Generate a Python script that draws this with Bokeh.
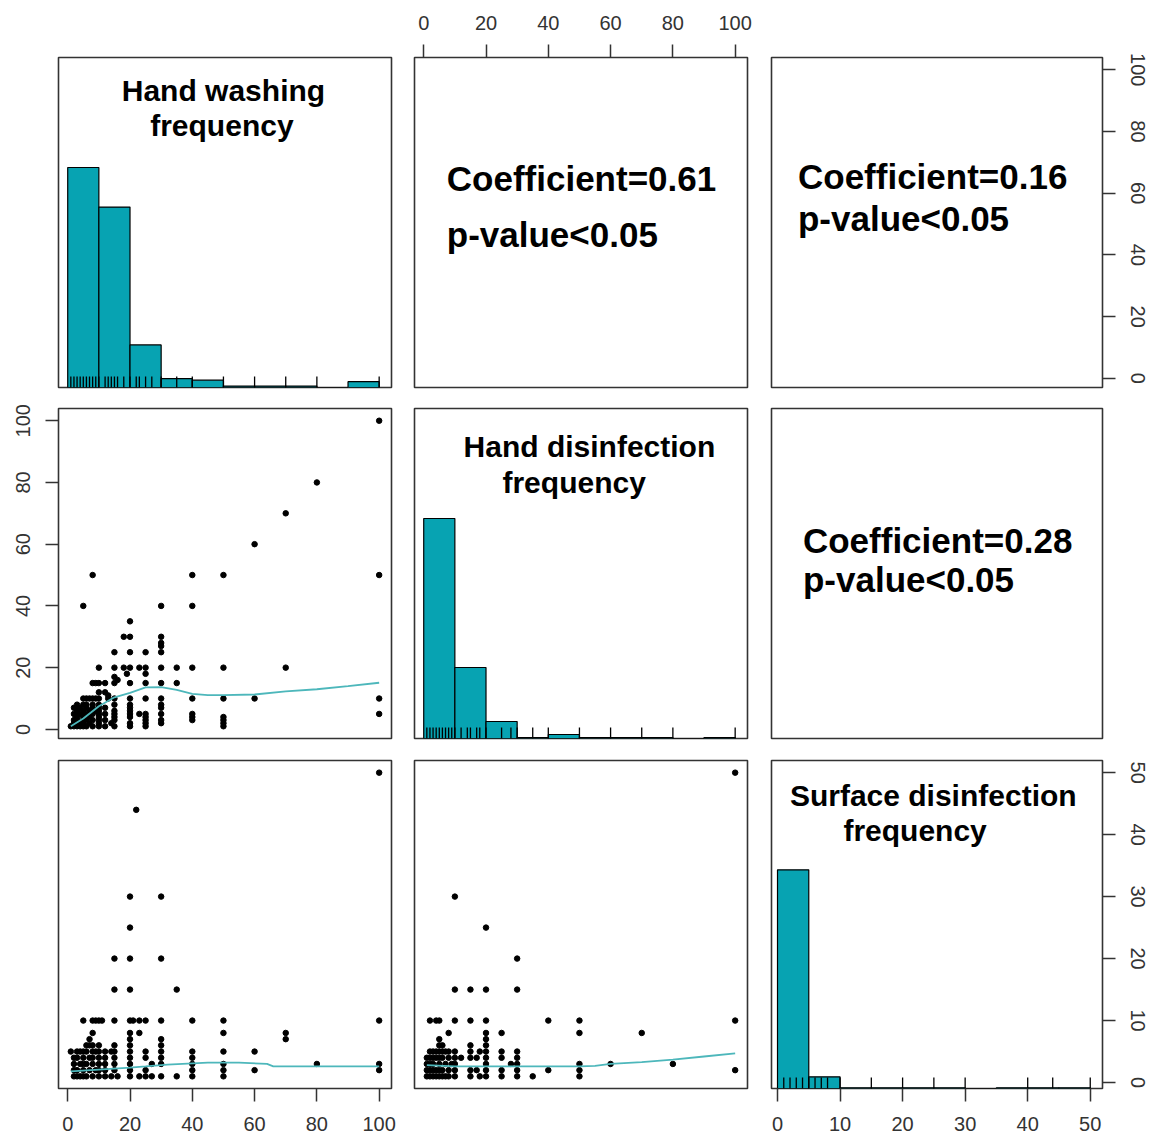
from bokeh.plotting import figure
from bokeh.layouts import gridplot
from bokeh.models import LinearAxis, FixedTicker, Range1d, Label
from bokeh.embed import file_html
from bokeh.resources import INLINE

# ---------------- data ----------------
var_titles = [["Hand washing", "frequency"],
              ["Hand disinfection", "frequency"],
              ["Surface disinfection", "frequency"]]
coef_texts = ["Coefficient=0.61", "Coefficient=0.16", "Coefficient=0.28"]
p_texts = ["p-value<0.05", "p-value<0.05", "p-value<0.05"]

hw_edges = [0, 10, 20, 30, 40, 50, 60, 70, 80, 90, 100]
hw_counts = [150, 123, 29, 6, 5, 1, 1, 1, 0, 4]
hd_edges = [0, 10, 20, 30, 40, 50, 60, 70, 80, 90, 100]
hd_counts = [220, 71, 17, 1, 4, 1, 1, 1, 0, 1]
sd_edges = [0, 5, 10, 15, 20, 25, 30, 35, 40, 45, 50]
sd_counts = [300, 16, 1, 1, 1, 1, 0, 1, 1, 1]

hw_rug = [1, 2, 3, 4, 5, 6, 7, 8, 9, 10, 12, 13, 14, 15, 16, 18, 20, 22, 23, 25, 27, 30, 35, 40, 50, 60, 70, 80, 100]
hd_rug = [1, 2, 3, 4, 5, 6, 7, 8, 9, 10, 12, 14, 15, 17, 18, 20, 25, 28, 30, 35, 40, 50, 60, 70, 80, 100]
sd_rug = [1, 2, 3, 4, 5, 6, 7, 8, 10, 15, 20, 25, 30, 40, 44, 50]

axis_ticks_100 = [0, 20, 40, 60, 80, 100]
axis_ticks_50 = [0, 10, 20, 30, 40, 50]

hw_hd_points = [
    (100, 100), (80, 80), (70, 70), (60, 60), (40, 50), (50, 50), (100, 50), (8, 50), (5, 40), (30, 40), (40, 40),
    (20, 35), (18, 30), (20, 30), (30, 30), (30, 28), (30, 27),
    (15, 25), (20, 25), (25, 25), (30, 25),
    (10, 20), (15, 20), (18, 20), (20, 20), (23, 20), (25, 20), (30, 20), (35, 20), (40, 20), (50, 20), (70, 20),
    (19, 18), (25, 18), (15, 17), (16, 16),
    (8, 15), (9, 15), (10, 15), (12, 15), (15, 15), (20, 15), (25, 15), (30, 15), (35, 15),
    (10, 12), (12, 12), (13, 11),
    (5, 10), (6, 10), (7, 10), (8, 10), (9, 10), (10, 10), (13, 10), (15, 10), (20, 10), (25, 10), (30, 10),
    (40, 10), (50, 10), (60, 10), (100, 10),
    (3, 8), (5, 8), (6, 8), (8, 8), (10, 8), (15, 8), (20, 8), (30, 8),
    (2, 7), (4, 7), (6, 7), (8, 7), (10, 7), (12, 7), (20, 7), (30, 7),
    (3, 6), (5, 6), (7, 6), (9, 6), (10, 6), (15, 6), (20, 6),
    (2, 5), (4, 5), (5, 5), (6, 5), (8, 5), (10, 5), (12, 5), (15, 5), (20, 5), (23, 5), (25, 5), (30, 5), (40, 5), (100, 5),
    (3, 4), (5, 4), (7, 4), (10, 4), (15, 4), (20, 4), (25, 4), (40, 4), (50, 4),
    (2, 3), (3, 3), (5, 3), (6, 3), (8, 3), (10, 3), (12, 3), (15, 3), (25, 3), (30, 3), (40, 3), (50, 3),
    (2, 2), (4, 2), (5, 2), (7, 2), (10, 2), (14, 2), (20, 2), (25, 2), (30, 2), (50, 2),
    (1, 1), (2, 1), (3, 1), (4, 1), (5, 1), (6, 1), (8, 1), (10, 1), (12, 1), (15, 1), (20, 1), (25, 1), (50, 1),
]

hw_sd_points = [
    (100, 50), (22, 44), (20, 30), (30, 30), (20, 25), (15, 20), (20, 20), (30, 20), (15, 15), (20, 15), (35, 15),
    (5, 10), (8, 10), (9, 10), (10, 10), (11, 10), (15, 10), (20, 10), (21, 10), (23, 10), (25, 10), (30, 10),
    (40, 10), (50, 10), (100, 10),
    (8, 8), (20, 8), (23, 8), (50, 8), (70, 8),
    (7, 7), (20, 7), (30, 7), (70, 7),
    (6, 6), (7, 6), (8, 6), (10, 6), (15, 6), (20, 6), (30, 6),
    (1, 5), (3, 5), (4, 5), (5, 5), (6, 5), (8, 5), (9, 5), (10, 5), (12, 5), (14, 5), (15, 5), (20, 5), (25, 5),
    (30, 5), (40, 5), (50, 5), (60, 5),
    (2, 4), (3, 4), (5, 4), (7, 4), (8, 4), (10, 4), (12, 4), (15, 4), (20, 4), (25, 4), (30, 4), (40, 4),
    (2, 3), (4, 3), (5, 3), (6, 3), (8, 3), (10, 3), (12, 3), (15, 3), (20, 3), (27, 3), (30, 3), (40, 3), (50, 3),
    (80, 3), (100, 3),
    (2, 2), (3, 2), (5, 2), (7, 2), (9, 2), (10, 2), (12, 2), (15, 2), (20, 2), (25, 2), (40, 2), (50, 2), (60, 2), (100, 2),
    (2, 1), (3, 1), (4, 1), (5, 1), (6, 1), (8, 1), (10, 1), (12, 1), (14, 1), (16, 1), (20, 1), (23, 1), (25, 1),
    (27, 1), (30, 1), (35, 1), (40, 1), (50, 1),
]

hd_sd_points = [
    (100, 50), (10, 30), (20, 25), (30, 20), (10, 15), (15, 15), (20, 15), (30, 15),
    (2, 10), (4, 10), (5, 10), (10, 10), (15, 10), (20, 10), (40, 10), (50, 10), (100, 10),
    (8, 8), (20, 8), (25, 8), (50, 8), (70, 8),
    (5, 7), (20, 7),
    (5, 6), (6, 6), (15, 6), (20, 6),
    (2, 5), (3, 5), (4, 5), (5, 5), (6, 5), (7, 5), (8, 5), (10, 5), (15, 5), (18, 5), (20, 5), (25, 5), (30, 5),
    (1, 4), (2, 4), (3, 4), (4, 4), (5, 4), (6, 4), (8, 4), (10, 4), (12, 4), (15, 4), (17, 4), (20, 4), (25, 4), (30, 4),
    (1, 3), (2, 3), (3, 3), (5, 3), (7, 3), (9, 3), (10, 3), (20, 3), (28, 3), (30, 3), (50, 3), (60, 3), (80, 3),
    (1, 2), (2, 2), (3, 2), (4, 2), (5, 2), (6, 2), (8, 2), (10, 2), (15, 2), (17, 2), (20, 2), (25, 2), (30, 2),
    (40, 2), (50, 2), (100, 2),
    (1, 1), (2, 1), (3, 1), (4, 1), (5, 1), (6, 1), (7, 1), (8, 1), (10, 1), (15, 1), (18, 1), (20, 1), (25, 1),
    (30, 1), (35, 1), (50, 1),
]

lo_hw_hd_x = [1, 5, 10, 15, 20, 25, 30, 35, 40, 45, 50, 60, 70, 80, 90, 100]
lo_hw_hd_y = [1.0, 3.5, 7.5, 10.4, 11.8, 13.6, 13.7, 12.8, 11.5, 11.1, 11.1, 11.3, 12.3, 13.0, 14.0, 15.1]
lo_hw_sd_x = [1, 10, 20, 25, 32, 45, 55, 64, 66, 80, 100]
lo_hw_sd_y = [1.8, 2.1, 2.4, 2.6, 2.9, 3.2, 3.2, 3.0, 2.6, 2.6, 2.6]
lo_hd_sd_x = [1, 10, 20, 30, 40, 50, 55, 60, 70, 80, 90, 100]
lo_hd_sd_y = [2.8, 2.6, 2.6, 2.6, 2.6, 2.6, 2.7, 3.0, 3.3, 3.7, 4.2, 4.7]

# ---------------- style ----------------
FONT = "Liberation Sans"
HIST_FILL = "#07A3B2"
LOESS = "#4DB7BB"
BOX = "#333333"
TICK_COL = "#333333"

R100 = (-2.96, 103.96)
R50 = (-0.96, 51.96)

COLS = [(58, 333, 11), (12, 333, 12), (12, 331, 49)]
ROWS = [(57, 330, 10), (11, 330, 11), (11, 328, 48)]


def make_fig(ci, ri, xr, yr):
    l, fw, r = COLS[ci]
    t, fh, b = ROWS[ri]
    p = figure(width=l + fw + r, height=t + fh + b,
               x_range=Range1d(*xr), y_range=Range1d(*yr),
               output_backend="svg", toolbar_location=None, tools="",
               x_axis_location=None, y_axis_location=None,
               min_border_left=l, min_border_right=r,
               min_border_top=t, min_border_bottom=b)
    p.outline_line_color = BOX
    p.outline_line_width = 1.6
    p.xgrid.visible = False
    p.ygrid.visible = False
    p.background_fill_color = "white"
    p.border_fill_color = "white"
    return p


def add_axis(p, side, ticks, range_name=None, vertical=False):
    kw = {}
    if range_name is not None:
        if side in ("left", "right"):
            kw["y_range_name"] = range_name
        else:
            kw["x_range_name"] = range_name
    ax = LinearAxis(ticker=FixedTicker(ticks=ticks), **kw)
    ax.axis_line_color = None
    ax.major_tick_in = 0
    ax.major_tick_out = 13
    ax.major_tick_line_color = TICK_COL
    ax.major_tick_line_width = 1.5
    ax.minor_tick_line_color = None
    ax.major_label_text_font = FONT
    ax.major_label_text_font_size = "20px"
    ax.major_label_text_color = "#333333"
    ax.major_label_standoff = 15
    if vertical:
        ax.major_label_orientation = "vertical"
    p.add_layout(ax, side)


def hist_panel(p, edges, counts, rug):
    m = max(counts)
    p.quad(left=edges[:-1], right=edges[1:], bottom=0, top=[c / m for c in counts],
           fill_color=HIST_FILL, line_color="black", line_width=1.2)
    p.segment(x0=rug, y0=[0] * len(rug), x1=rug, y1=[0.05] * len(rug),
              line_color="black", line_width=1.3)


def title(p, x, y, txt):
    p.add_layout(Label(x=x, y=y, text=txt, text_align="center", text_baseline="alphabetic",
                       text_font=FONT, text_font_style="bold", text_font_size="30px",
                       text_color="black"))


def ctext(p, x, y, txt):
    p.add_layout(Label(x=x, y=y, text=txt, text_align="left", text_baseline="alphabetic",
                       text_font=FONT, text_font_style="bold", text_font_size="35px",
                       text_color="black"))


def scatter_panel(p, pts, lx, ly):
    xs = [a for a, b in pts]
    ys = [b for a, b in pts]
    p.scatter(xs, ys, size=5.5, color="black", marker="circle")
    p.line(lx, ly, line_color=LOESS, line_width=1.8)


# row 1
p11 = make_fig(0, 0, R100, (0, 1.5))
hist_panel(p11, hw_edges, hw_counts, hw_rug)
title(p11, 50, 1.35, var_titles[0][0])
title(p11, 49.5, 1.191, var_titles[0][1])

p12 = make_fig(1, 0, (0, 1), (0, 1))
p12.extra_x_ranges = {"hd": Range1d(*R100)}
add_axis(p12, "above", axis_ticks_100, "hd")
ctext(p12, 0.097, 0.633, coef_texts[0])
ctext(p12, 0.097, 0.463, p_texts[0])

p13 = make_fig(2, 0, (0, 1), (0, 1))
p13.extra_y_ranges = {"hw": Range1d(*R100)}
add_axis(p13, "right", axis_ticks_100, "hw", vertical=True)
ctext(p13, 0.080, 0.638, coef_texts[1])
ctext(p13, 0.080, 0.511, p_texts[1])

# row 2
p21 = make_fig(0, 1, R100, R100)
scatter_panel(p21, hw_hd_points, lo_hw_hd_x, lo_hw_hd_y)
add_axis(p21, "left", axis_ticks_100, vertical=True)

p22 = make_fig(1, 1, R100, (0, 1.5))
hist_panel(p22, hd_edges, hd_counts, hd_rug)
title(p22, 53.2, 1.328, var_titles[1][0])
title(p22, 48.3, 1.164, var_titles[1][1])

p23 = make_fig(2, 1, (0, 1), (0, 1))
ctext(p23, 0.095, 0.601, coef_texts[2])
ctext(p23, 0.095, 0.482, p_texts[2])

# row 3
p31 = make_fig(0, 2, R100, R50)
scatter_panel(p31, hw_sd_points, lo_hw_sd_x, lo_hw_sd_y)
add_axis(p31, "below", axis_ticks_100)

p32 = make_fig(1, 2, R100, R50)
scatter_panel(p32, hd_sd_points, lo_hd_sd_x, lo_hd_sd_y)

p33 = make_fig(2, 2, R50, (0, 1.5))
p33.extra_y_ranges = {"sd": Range1d(*R50)}
hist_panel(p33, sd_edges, sd_counts, sd_rug)
add_axis(p33, "below", axis_ticks_50)
add_axis(p33, "right", axis_ticks_50, "sd", vertical=True)
title(p33, 24.9, 1.34, var_titles[2][0])
title(p33, 22.0, 1.18, var_titles[2][1])

grid = gridplot([[p11, p12, p13], [p21, p22, p23], [p31, p32, p33]], toolbar_location=None)

open("out.html", "w").write(file_html(grid, INLINE))
